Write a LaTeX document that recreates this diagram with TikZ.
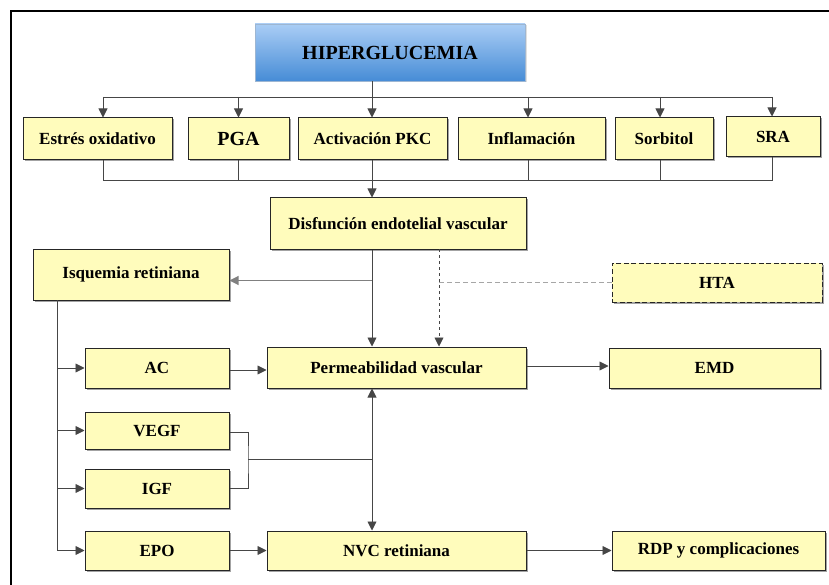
\documentclass[tikz,border=0pt]{standalone}
\usepackage{fontspec}
\setmainfont{Liberation Serif}
\usepackage{tikz}
\usetikzlibrary{arrows.meta,shadows,calc}
\definecolor{boxYellow}{RGB}{255,252,188}
\definecolor{lineGray}{RGB}{70,70,70}
\definecolor{topBlue}{RGB}{170,205,245}
\definecolor{lowBlue}{RGB}{70,140,214}

\begin{document}
\begin{tikzpicture}[x=1pt,y=-1pt,
    box/.style={draw=black!85,line width=1pt,fill=boxYellow,inner sep=0pt,
      font=\bfseries\fontsize{17}{20}\selectfont,
      drop shadow={shadow xshift=1.5pt,shadow yshift=-1.5pt,fill=black!45,opacity=0.8}},
    link/.style={draw=lineGray,line width=0.9pt},
    tip/.style={Triangle[length=9pt,width=9pt]},
    arr/.style={link,-{Triangle[length=9pt,width=9pt]}}]
    \useasboundingbox (0,0) rectangle (829,585);
    % frame (top and left only)
    \draw[line width=1.6pt] (11,585) -- (11,11) -- (829,11);

    % top node
    \node[draw=topBlue!70!gray,line width=0.6pt,top color=topBlue,bottom color=lowBlue,
      minimum width=270pt,minimum height=57pt,inner sep=0pt,
      font=\bfseries\fontsize{20}{22}\selectfont,
      drop shadow={shadow xshift=1.5pt,shadow yshift=-1.5pt,fill=black!25}] (hiper) at (390,52.5) {HIPERGLUCEMIA};

    % first row
    \node[box,minimum width=149pt,minimum height=42pt] (estres) at (97.5,139) {Estrés oxidativo};
    \node[box,minimum width=101pt,minimum height=42pt,font=\bfseries\fontsize{20}{22}\selectfont] (pga) at (238.5,139) {PGA};
    \node[box,minimum width=149pt,minimum height=42pt] (pkc) at (372.5,139) {Activación PKC};
    \node[box,minimum width=147pt,minimum height=42pt] (infl) at (531.5,139) {Inflamación};
    \node[box,minimum width=98pt,minimum height=42pt] (sorb) at (664,139) {Sorbitol};
    \node[box,minimum width=94pt,minimum height=40pt] (sra) at (773,137) {SRA};

    \node[box,minimum width=256pt,minimum height=51pt] (disf) at (398,223.5) {Disfunción endotelial vascular};
    \node[box,minimum width=196pt,minimum height=51pt] (isq) at (131,274.5) {Isquemia retiniana};
    \node[box,dashed,dash pattern=on 5pt off 2.5pt,minimum width=210pt,minimum height=39pt] (hta) at (717,282.5) {HTA};

    \node[box,minimum width=144pt,minimum height=40pt] (ac) at (157,368) {AC};
    \node[box,minimum width=259pt,minimum height=41pt] (perm) at (396.5,367.5) {Permeabilidad vascular};
    \node[box,minimum width=211pt,minimum height=40pt] (emd) at (714.5,368) {EMD};

    \node[box,minimum width=144pt,minimum height=37pt] (vegf) at (157,430.5) {VEGF};
    \node[box,minimum width=144pt,minimum height=39pt] (igf) at (157,488.5) {IGF};
    \node[box,minimum width=144pt,minimum height=39pt] (epo) at (157,550.5) {EPO};
    \node[box,minimum width=259pt,minimum height=39pt] (nvc) at (396.5,550.5) {NVC retiniana};
    \node[box,minimum width=213pt,minimum height=39pt] (rdp) at (718.5,550.5) {RDP y complicaciones};

    % helper points
    \coordinate (split) at (372,97);
    \coordinate (merge) at (372,180);
    \coordinate (trunk) at (57,300);
    \coordinate (dash) at (439,249);
    \coordinate (fork) at (248,459);

    % hiperglucemia to first row
    \draw[arr] (hiper.south -| split) -- (pkc.north -| split);
    \draw[link] ([xshift=5.5pt]estres.north |- split) -- (sra.north |- split);
    \draw[arr] ([xshift=5.5pt]estres.north |- split) -- ([xshift=5.5pt]estres.north);
    \draw[arr] (pga.north |- split) -- (pga.north);
    \draw[arr] ([xshift=-3.5pt]infl.north |- split) -- ([xshift=-3.5pt]infl.north);
    \draw[arr] ([xshift=-4pt]sorb.north |- split) -- ([xshift=-4pt]sorb.north);
    \draw[arr] ([xshift=-1pt]sra.north |- split) -- ([xshift=-1pt]sra.north);

    % first row merges into disfuncion
    \draw[link] ([xshift=5.5pt]estres.south) |- ([xshift=-1pt]sra.south |- merge) -- ([xshift=-1pt]sra.south);
    \draw[link] (pga.south) -- (pga.south |- merge);
    \draw[link] ([xshift=-3.5pt]infl.south) -- ([xshift=-3.5pt]infl.south |- merge);
    \draw[link] ([xshift=-4pt]sorb.south) -- ([xshift=-4pt]sorb.south |- merge);
    \draw[arr] (pkc.south -| merge) -- (disf.north -| merge);

    % disfuncion
    \draw[arr] (disf.south -| merge) -- (perm.north -| merge);
    \draw[arr,draw=black!50,line width=1.1pt] ([yshift=-6pt]isq.east -| merge) -- ([yshift=-6pt]isq.east);
    \draw[arr,dashed] (dash) -- (perm.north -| dash);
    \draw[link,draw=black!35,dash pattern=on 5pt off 3pt,line width=1.3pt] (hta.west) -- (hta.west -| dash);

    % isquemia trunk
    \draw[arr] (trunk) |- (epo.west);
    \draw[arr] (trunk |- ac.west) -- (ac.west);
    \draw[arr] (trunk |- vegf.west) -- (vegf.west);
    \draw[arr] (trunk |- igf.west) -- (igf.west);

    \draw[arr] ([yshift=-2pt]ac.east) -- ([yshift=-2pt]perm.west |- ac.east);
    \draw[arr] ([yshift=1.5pt]perm.east) -- ([yshift=1.5pt]emd.west |- perm.east);

    % factores de crecimiento
    \draw[link] ([yshift=-1.5pt]vegf.east) -| (fork) |- (igf.east);
    \draw[link] (fork) -- (fork -| merge);
    \draw[link,{Triangle[length=9pt,width=9pt]}-{Triangle[length=9pt,width=9pt]}] (perm.south -| merge) -- (nvc.north -| merge);

    \draw[arr] (epo.east) -- (nvc.west);
    \draw[arr] (nvc.east) -- (rdp.west);
\end{tikzpicture}
\end{document}
